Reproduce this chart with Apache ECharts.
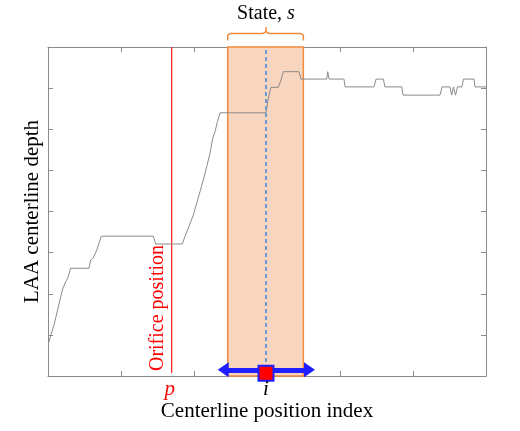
<!DOCTYPE html>
<html>
<head>
<meta charset="utf-8">
<script src="https://cdn.jsdelivr.net/npm/echarts@6/dist/echarts.min.js"></script>
<style>
html, body { margin: 0; padding: 0; background: #fff; }
#chart { width: 520px; height: 431px; }
</style>
</head>
<body>
<div id="chart"></div>
<script>
// centerline depth profile (index, depth)
var depthX = [0.7, 1.9, 4.1, 6.4, 8.7, 10.3, 12.1, 13.7, 15.5, 28.1, 29.2, 31.0, 33.4, 34.9, 36.5,
    72.1, 73.8, 92.0, 93.8, 96.1, 97.7, 99.5, 101.8, 104.1, 106.4, 108.7, 111.0, 112.8, 114.4, 116.0, 117.8,
    149.3, 150.9, 152.7, 157.7, 159.6, 161.2, 171.9, 173.3, 190.9, 191.6, 192.5, 202.7, 203.5,
    223.3, 224.7, 229.7, 230.8, 242.3, 243.2, 268.5, 269.9, 275.3, 276.5, 277.7, 279.1, 280.5,
    283.5, 284.5, 291.8, 292.5, 300];
var depthY = [0.83, 1.0, 1.24, 1.58, 1.93, 2.14, 2.29, 2.39, 2.62, 2.62, 2.82, 2.87, 3.06, 3.23, 3.40,
    3.40, 3.21, 3.21, 3.39, 3.59, 3.75, 3.91, 4.20, 4.48, 4.77, 5.09, 5.42, 5.78, 5.94, 6.18, 6.40,
    6.40, 6.75, 7.02, 7.02, 7.20, 7.40, 7.40, 7.22, 7.22, 7.40, 7.22, 7.22, 7.03,
    7.03, 7.22, 7.22, 7.03, 7.03, 6.83, 6.83, 7.03, 7.03, 6.83, 7.03, 6.83, 7.03,
    7.03, 7.22, 7.22, 7.03, 7.03];

var orificeIdx = 84.7;
var stateIdx = 149.3;
var stateRange = [123.1, 174.9];
var arrowRange = [120.0, 179.1];
var arrowDepth = 0.15;
var squareDepth = 0.066;

var xMin = 0, xMax = 300, xStep = 50;
var yMin = 0, yMax = 8, yStep = 1;

var serif = 'Liberation Serif';
var gray = '#8a8a8a';

var depthData = [];
for (var i = 0; i < depthX.length; i++) {
    depthData.push([depthX[i], depthY[i]]);
}

function axisX(pos, withName) {
    var a = {
        type: 'value', min: xMin, max: xMax, interval: xStep, position: pos,
        axisLine: { onZero: false, lineStyle: { color: gray, width: 1 } },
        axisTick: { inside: true, length: 5, lineStyle: { color: gray } },
        axisLabel: { show: false },
        splitLine: { show: false }
    };
    if (withName) {
        a.name = 'Centerline position index';
        a.nameLocation = 'middle';
        a.nameGap = 25;
        a.nameTextStyle = { fontFamily: serif, fontSize: 21, color: '#000' };
    }
    return a;
}
function axisY(pos, withName) {
    var a = {
        type: 'value', min: yMin, max: yMax, interval: yStep, position: pos,
        axisLine: { onZero: false, lineStyle: { color: gray, width: 1 } },
        axisTick: { inside: true, length: 5, lineStyle: { color: gray } },
        axisLabel: { show: false },
        splitLine: { show: false }
    };
    if (withName) {
        a.name = 'LAA centerline depth';
        a.nameLocation = 'middle';
        a.nameGap = 5;
        a.nameTextStyle = { fontFamily: serif, fontSize: 21, color: '#000' };
    }
    return a;
}

var chart = echarts.init(document.getElementById('chart'));

var option = {
    animation: false,
    grid: { left: 48, right: 34, top: 47, bottom: 55 },
    xAxis: [axisX('bottom', true), axisX('top', false)],
    yAxis: [axisY('left', true), axisY('right', false)],
    series: [
        {
            // orifice line + state window
            type: 'line', z: 1,
            data: [[orificeIdx, 0.07], [orificeIdx, yMax]],
            showSymbol: false,
            lineStyle: { color: '#ff1a1a', width: 1.2 },
            markArea: {
                silent: true,
                itemStyle: { color: '#f8d5bf', borderColor: '#ef8a3e', borderWidth: 1.5 },
                data: [[{ xAxis: stateRange[0], yAxis: yMin }, { xAxis: stateRange[1], yAxis: yMax }]]
            }
        },
        {
            type: 'line', z: 3,
            data: depthData,
            showSymbol: false,
            lineStyle: { color: gray, width: 1 }
        },
        {
            type: 'line', z: 4,
            data: [[stateIdx, yMin], [stateIdx, yMax]],
            showSymbol: false,
            lineStyle: { color: '#6a9bd1', width: 2, type: [4, 3] }
        },
        {
            type: 'line', z: 5,
            data: [],
            markLine: {
                silent: true,
                symbol: ['triangle', 'triangle'],
                symbolSize: [15, 11],
                label: { show: false },
                lineStyle: { color: '#1e1eff', width: 5, type: 'solid' },
                data: [[{ coord: [arrowRange[0], arrowDepth] }, { coord: [arrowRange[1], arrowDepth] }]]
            }
        },
        {
            type: 'scatter', z: 10, clip: false,
            data: [[stateIdx, squareDepth]],
            symbol: 'rect', symbolSize: 15,
            itemStyle: { color: '#ff0000', borderColor: '#2020ff', borderWidth: 2, opacity: 1 }
        }
    ]
};
chart.setOption(option);

var pxL = chart.convertToPixel({ xAxisIndex: 0 }, stateRange[0]);
var pxR = chart.convertToPixel({ xAxisIndex: 0 }, stateRange[1]);
var pxM = chart.convertToPixel({ xAxisIndex: 0 }, stateIdx);
var pxP = chart.convertToPixel({ xAxisIndex: 0 }, orificeIdx);
var yTop = chart.convertToPixel({ yAxisIndex: 0 }, yMax);
var yBot = chart.convertToPixel({ yAxisIndex: 0 }, yMin);

// curly brace above the state window
var by = yTop - 13.5;
var bracePts = [
    [pxL, yTop - 6.5], [pxL, by + 2.5], [pxL + 0.8, by + 0.8], [pxL + 3, by],
    [pxM - 3, by], [pxM - 1, by - 1], [pxM, by - 3], [pxM, yTop - 20],
    [pxM, by - 3], [pxM + 1, by - 1], [pxM + 3, by],
    [pxR - 3, by], [pxR - 0.8, by + 0.8], [pxR, by + 2.5], [pxR, yTop - 6.5]
];

chart.setOption({
    graphic: [
        {
            type: 'polyline', z: 20,
            shape: { points: bracePts },
            style: { stroke: '#ef8a3e', fill: null, lineWidth: 1.5 }
        },
        {
            type: 'text', x: pxM, y: yTop - 33, z: 20,
            style: {
                text: '{a|State, }{b|s}',
                align: 'center', verticalAlign: 'middle',
                rich: {
                    a: { fontFamily: serif, fontSize: 20, fill: '#000' },
                    b: { fontFamily: serif, fontSize: 20, fontStyle: 'italic', fill: '#000' }
                }
            }
        },
        {
            type: 'text', x: pxP - 14, y: yBot - 68, rotation: Math.PI / 2, z: 20,
            style: {
                text: 'Orifice position', fontFamily: serif, fontSize: 20, fill: '#ff0000',
                align: 'center', verticalAlign: 'middle'
            }
        },
        {
            type: 'text', x: pxP - 2, y: yBot + 13, z: 20,
            style: {
                text: 'p', fontFamily: serif, fontSize: 21, fontStyle: 'italic', fill: '#ff0000',
                align: 'center', verticalAlign: 'middle'
            }
        },
        {
            type: 'text', x: pxM, y: yBot + 13, z: 20,
            style: {
                text: 'i', fontFamily: serif, fontSize: 21, fontStyle: 'italic', fill: '#000',
                align: 'center', verticalAlign: 'middle'
            }
        }
    ]
});
</script>
</body>
</html>
